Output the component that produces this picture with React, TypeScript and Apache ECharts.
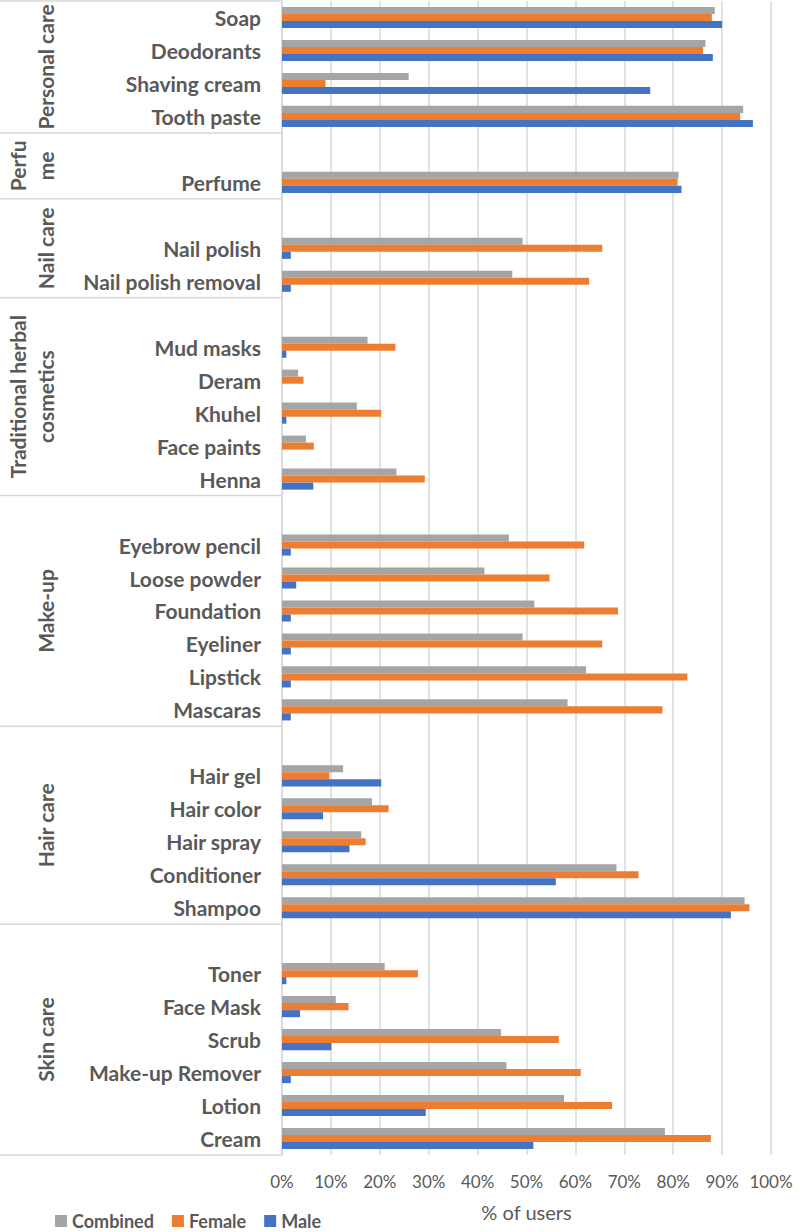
import React, { useEffect, useRef } from "react";
import * as echarts from "echarts";

const groupLabelLines: string[][] = [
  ["Personal care"],
  ["Perfu", "me"],
  ["Nail care"],
  ["Traditional herbal", "cosmetics"],
  ["Make-up"],
  ["Hair care"],
  ["Skin care"],
];

const groupItems: string[][] = [
  ["Soap", "Deodorants", "Shaving cream", "Tooth paste"],
  ["Perfume"],
  ["Nail polish", "Nail polish removal"],
  ["Mud masks", "Deram", "Khuhel", "Face paints", "Henna"],
  ["Eyebrow pencil", "Loose powder", "Foundation", "Eyeliner", "Lipstick", "Mascaras"],
  ["Hair gel", "Hair color", "Hair spray", "Conditioner", "Shampoo"],
  ["Toner", "Face Mask", "Scrub", "Make-up Remover", "Lotion", "Cream"],
];

const combined = [88.5, 86.6, 25.9, 94.3, 81.1, 49.2, 47.1, 17.5, 3.3, 15.3, 4.9, 23.4, 46.4, 41.4, 51.6, 49.2, 62.2, 58.4, 12.5, 18.4, 16.2, 68.4, 94.6, 21.0, 11.0, 44.8, 45.9, 57.7, 78.3];
const female = [87.9, 86.1, 8.9, 93.7, 80.9, 65.5, 62.8, 23.2, 4.4, 20.3, 6.5, 29.2, 61.8, 54.7, 68.7, 65.5, 82.9, 77.8, 9.7, 21.8, 17.1, 72.9, 95.6, 27.8, 13.6, 56.6, 61.1, 67.5, 87.7];
const male = [90.0, 88.1, 75.3, 96.3, 81.7, 1.8, 1.8, 0.9, 0, 0.9, 0, 6.4, 1.8, 2.9, 1.8, 1.8, 1.8, 1.8, 20.3, 8.4, 13.8, 56.0, 91.8, 0.9, 3.7, 10.1, 1.8, 29.4, 51.4];

const seriesNames = ["Combined", "Female", "Male"];
const seriesColors = ["#A5A5A5", "#ED7D31", "#4472C4"];
const xTicks = { min: 0, max: 100, interval: 10 };

const FONT = "Lato, 'Open Sans', sans-serif";
const TEXT = "#595959";
const LINE = "#D9D9D9";

export default function App() {
  const ref = useRef<HTMLDivElement>(null);
  useEffect(() => {
    if (!ref.current) return;
    const chart = echarts.init(ref.current, undefined, { renderer: "svg" });

    // Build rows: a blank slot before every group except the first
    const cats: string[] = [];
    const cVals: (number | null)[] = [];
    const fVals: (number | null)[] = [];
    const mVals: (number | null)[] = [];
    const groupRanges: { start: number; end: number }[] = [];
    let k = 0;
    groupItems.forEach((items, gi) => {
      const start = cats.length;
      if (gi > 0) {
        cats.push("");
        cVals.push(null);
        fVals.push(null);
        mVals.push(null);
      }
      items.forEach((it) => {
        cats.push(it);
        cVals.push(combined[k]);
        fVals.push(female[k]);
        mVals.push(male[k]);
        k++;
      });
      groupRanges.push({ start, end: cats.length - 1 });
    });
    const valsArr = [cVals, fVals, mVals];

    const gridLeft = 282;
    const gridRight = 29;
    const gridTop = 1;
    const gridBottom = 77;

    chart.setOption({
      animation: false,
      textStyle: { fontFamily: FONT },
      grid: { left: gridLeft, right: gridRight, top: gridTop, bottom: gridBottom },
      legend: {
        data: seriesNames,
        left: 50,
        top: 1207,
        orient: "horizontal",
        itemWidth: 12,
        itemHeight: 12,
        itemGap: 18,
        icon: "rect",
        textStyle: { fontFamily: FONT, fontSize: 18, fontWeight: "bold", color: TEXT },
      },
      xAxis: {
        type: "value",
        min: xTicks.min,
        max: xTicks.max,
        interval: xTicks.interval,
        name: "% of users",
        nameLocation: "middle",
        nameGap: 47,
        nameTextStyle: { fontFamily: FONT, fontSize: 20, color: TEXT },
        axisLine: { show: false },
        axisTick: { show: false },
        axisLabel: {
          formatter: "{value}%",
          fontFamily: FONT,
          fontSize: 17,
          color: TEXT,
          margin: 18,
        },
        splitLine: { show: true, lineStyle: { color: LINE, width: 1.5 } },
      },
      yAxis: {
        type: "category",
        data: cats,
        inverse: true,
        axisLine: { show: true, lineStyle: { color: LINE, width: 1.5 } },
        axisTick: { show: false },
        axisLabel: {
          fontFamily: FONT,
          fontSize: 21,
          fontWeight: "bold",
          color: TEXT,
          margin: 21,
          interval: 0,
        },
        splitLine: { show: false },
      },
      series: seriesNames.map((name, i) => ({
        name,
        type: "bar",
        data: valsArr[i],
        itemStyle: { color: seriesColors[i] },
        barGap: "0%",
        barCategoryGap: "36%",
      })),
    });

    // Group separators and labels
    const y0 = chart.convertToPixel({ yAxisIndex: 0 }, 0) as number;
    const y1 = chart.convertToPixel({ yAxisIndex: 0 }, 1) as number;
    const slot = y1 - y0;
    const bound = (i: number) => y0 + (i - 0.5) * slot;
    const graphics: any[] = [];
    const lineEls: number[] = [bound(0)];
    groupRanges.forEach((g, gi) => {
      const yTop = bound(g.start);
      const yBot = bound(g.end + 1);
      lineEls.push(yBot);
      const yc = (yTop + yBot) / 2;
      const lines = groupLabelLines[gi];
      lines.forEach((ln, li) => {
        const x = 45 - (lines.length - 1 - li) * 28;
        graphics.push({
          type: "text",
          x,
          y: yc,
          rotation: Math.PI / 2,
          style: {
            text: ln,
            fontFamily: FONT,
            fontSize: 21,
            fontWeight: "bold",
            fill: TEXT,
            align: "center",
            verticalAlign: "middle",
          },
        });
      });
    });
    lineEls.forEach((yy) => {
      graphics.push({
        type: "line",
        shape: { x1: 0, y1: yy, x2: gridLeft, y2: yy },
        style: { stroke: LINE, lineWidth: 1.5 },
      });
    });
    chart.setOption({ graphic: graphics });

    return () => chart.dispose();
  }, []);
  return (
    <div
      ref={ref}
      style={{ position: "absolute", left: 0, top: 0, width: 800, height: 1232, background: "#fff" }}
    />
  );
}
